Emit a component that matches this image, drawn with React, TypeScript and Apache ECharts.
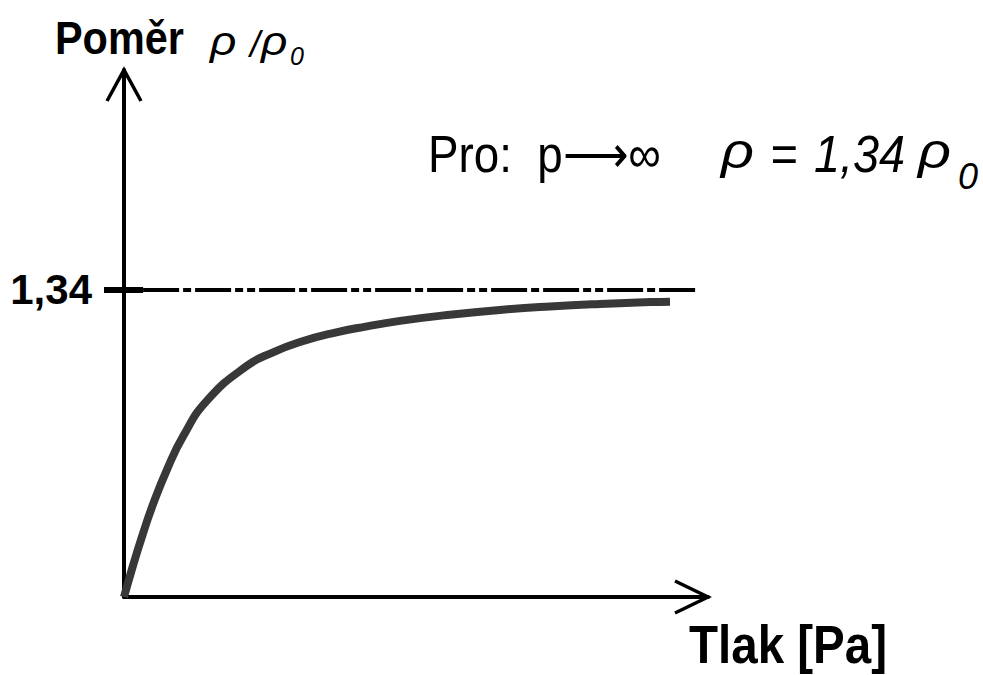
import React, { useEffect, useRef } from "react";
import * as echarts from "echarts";

// Pressure (arbitrary units) and density ratio rho/rho0 along the curve
const pressure = [0, 0.17, 0.358, 0.546, 0.81, 1.111, 1.563, 2.317, 2.807, 3.315, 3.937, 4.577, 5.199, 6.14, 7.082, 8.024, 8.966, 9.908, 10.284];
const densityRatio = [0, 0.1375, 0.277, 0.404, 0.556, 0.7, 0.857, 1.009, 1.068, 1.113, 1.152, 1.181, 1.205, 1.232, 1.253, 1.268, 1.279, 1.287, 1.289];

// Limit value for p -> infinity
const limitValue = 1.34;
const limitTickLabels = ["1,34"];

const X_MAX = 11;
const Y_MAX = 2.3;

// plot frame in pixels
const W = 983;
const H = 675;
const GRID = { left: 124, right: 275, top: 70, bottom: 78 };
const AXIS_X0 = GRID.left;
const AXIS_Y0 = H - GRID.bottom;
const AXIS_X1 = W - GRID.right;
const AXIS_Y1 = GRID.top;

const SANS = "'Liberation Sans', Arial, sans-serif";

function txt(
  text: string,
  x: number,
  baseline: number,
  size: number,
  opts: { weight?: string; italic?: boolean; scaleX?: number; family?: string } = {}
) {
  return {
    type: "text",
    x,
    y: baseline - 0.3465 * size,
    scaleX: opts.scaleX ?? 1,
    silent: true,
    style: {
      text,
      fontSize: size,
      fontFamily: opts.family ?? SANS,
      fontWeight: opts.weight ?? "normal",
      fontStyle: opts.italic ? "italic" : "normal",
      fill: "#000",
      align: "left",
      verticalAlign: "middle",
    },
  };
}

export default function App() {
  const ref = useRef<HTMLDivElement>(null);

  useEffect(() => {
    document.body.style.margin = "0";
    const chart = echarts.init(ref.current!, null, { renderer: "svg" });

    const curve = pressure.map((p, i) => [p, densityRatio[i]]);
    const tickEnd = 0.36;
    const dashEnd = 10.79;

    chart.setOption({
      animation: false,
      backgroundColor: "#fff",
      grid: { ...GRID, containLabel: false },
      xAxis: {
        type: "value",
        min: 0,
        max: X_MAX,
        axisLine: { show: true, onZero: false, lineStyle: { color: "#000", width: 4 } },
        axisTick: { show: false },
        axisLabel: { show: false },
        splitLine: { show: false },
      },
      yAxis: {
        type: "value",
        min: 0,
        max: Y_MAX,
        axisLine: { show: true, onZero: false, lineStyle: { color: "#000", width: 4 } },
        axisTick: {
          show: true,
          customValues: [limitValue],
          length: 20,
          lineStyle: { color: "#000", width: 6 },
        },
        axisLabel: {
          show: true,
          customValues: [limitValue],
          formatter: () => limitTickLabels[0],
          margin: 32,
          fontSize: 42,
          fontWeight: "bold",
          fontFamily: SANS,
          color: "#000",
          verticalAlign: "middle",
          padding: [0, 0, 48, 0],
        },
        splitLine: { show: false },
      },
      series: [
        {
          type: "line",
          data: curve,
          smooth: 0.5,
          clip: false,
          showSymbol: false,
          symbol: "none",
          lineStyle: { color: "#383838", width: 8, cap: "butt" },
          markLine: {
            silent: true,
            symbol: ["none", "none"],
            label: { show: false },
            data: [
              [
                { coord: [0, limitValue], lineStyle: { type: "solid", width: 6, color: "#000" } },
                { coord: [tickEnd, limitValue] },
              ],
              [
                {
                  coord: [tickEnd, limitValue],
                  lineStyle: { type: [36, 4, 8, 4, 36, 4, 8, 4, 8, 4], width: 4, color: "#000" },
                },
                { coord: [dashEnd, limitValue] },
              ],
            ],
          },
        },
      ],
      graphic: [
        // arrow heads on both axes
        {
          type: "polyline",
          silent: true,
          shape: { points: [[AXIS_X0 - 17, AXIS_Y1 + 31], [AXIS_X0, AXIS_Y1], [AXIS_X0 + 17, AXIS_Y1 + 31]] },
          style: { stroke: "#000", lineWidth: 3.5, fill: null },
        },
        {
          type: "polyline",
          silent: true,
          shape: { points: [[AXIS_X1 - 33, AXIS_Y0 - 16], [AXIS_X1, AXIS_Y0], [AXIS_X1 - 33, AXIS_Y0 + 16]] },
          style: { stroke: "#000", lineWidth: 3.5, fill: null },
        },
        // axis titles
        txt("Poměr", 55, 54, 46, { weight: "bold", scaleX: 0.9 }),
        txt("ρ", 210, 55, 40, { italic: true, scaleX: 1.15 }),
        txt("/", 250, 57, 36, { italic: true }),
        txt("ρ", 261, 55, 40, { italic: true, scaleX: 1.15 }),
        txt("0", 290, 65, 25, { italic: true }),
        txt("Tlak [Pa]", 689, 663, 54, { weight: "bold", scaleX: 0.88 }),
        // limit annotation
        txt("Pro:  p⟶∞", 428, 172, 52, { scaleX: 0.88 }),
        txt("ρ", 721, 168, 50, { italic: true, scaleX: 1.15 }),
        txt("=", 770, 172, 52, { italic: true, scaleX: 0.9 }),
        txt("1,34", 814, 172, 52, { italic: true, scaleX: 0.9 }),
        txt("ρ", 918, 168, 50, { italic: true, scaleX: 1.15 }),
        txt("0", 958, 189, 36, { italic: true }),
      ],
    });

    return () => chart.dispose();
  }, []);

  return <div ref={ref} style={{ position: "fixed", left: 0, top: 0, width: W, height: H }} />;
}
